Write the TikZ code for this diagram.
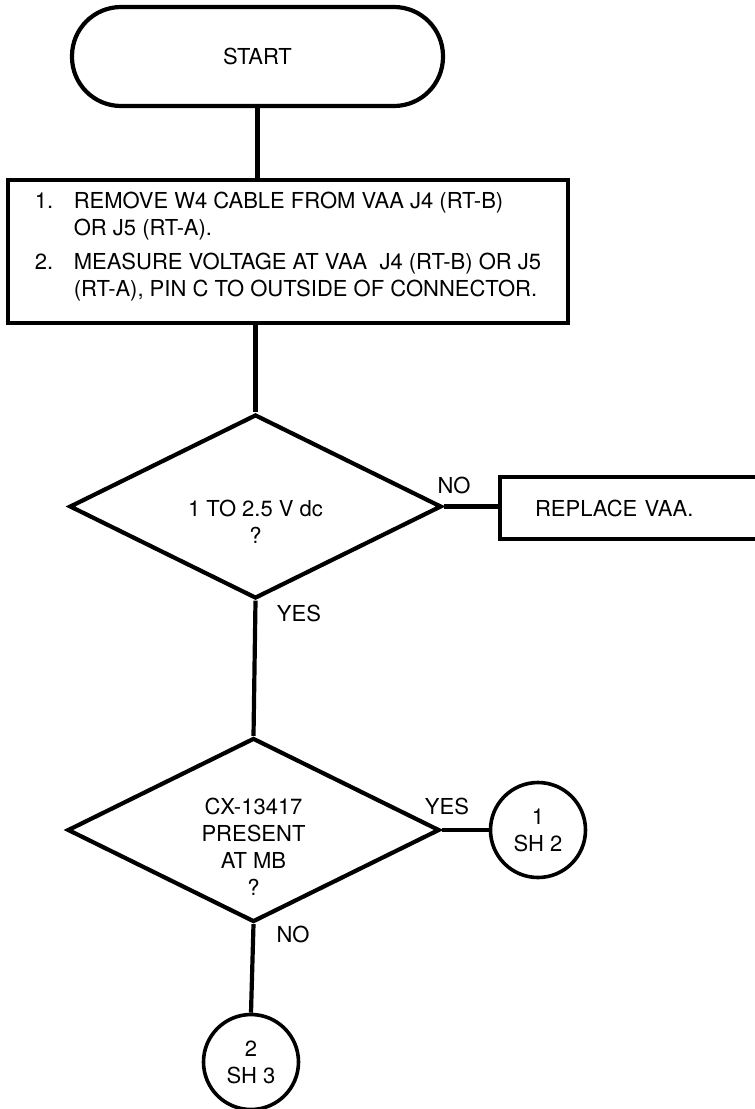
\documentclass[tikz,border=0pt]{standalone}
\usepackage{fontspec}
\setmainfont{TeX Gyre Heros}
\usetikzlibrary{shapes.geometric}
\begin{document}
\begin{tikzpicture}[x=1pt,y=-1pt,
  every node/.style={font=\fontsize{22}{27}\selectfont},
  ln/.style={line width=4.2pt},
  term/.style={draw, line width=4.2pt, rectangle, rounded corners=49pt,
    minimum width=371pt, minimum height=99pt, inner sep=0pt},
  stepbox/.style={draw, line width=4.2pt, rectangle, minimum width=560pt,
    minimum height=143pt, inner sep=0pt},
  decision/.style={draw, diamond, line width=4.2pt, aspect=2, inner sep=0pt,
    minimum width=372pt, minimum height=184pt},
  actbox/.style={draw, line width=4.2pt, rectangle, minimum height=62pt,
    text width=257pt, inner xsep=35pt, inner ysep=0pt, align=left},
  conn/.style={draw, circle, line width=3.6pt, minimum size=95pt, inner sep=0pt,
    align=center},
  lbl/.style={inner sep=0pt}]
\useasboundingbox (0,0) rectangle (755,1109);
\clip (0,0) rectangle (755,1109);

\node[term] (start) at (257.5,56.5) {START};

\node[stepbox] (step) at (288,251.5) {\raisebox{4pt}[\height][\depth]{%
  \begin{tabular}{@{}p{39pt}@{}l@{}}
  1. & REMOVE W4 CABLE FROM VAA J4 (RT-B)\\
     & OR J5 (RT-A).\\[7pt]
  2. & MEASURE VOLTAGE AT VAA~~J4 (RT-B) OR J5\\
     & (RT-A), PIN C TO OUTSIDE OF CONNECTOR.
  \end{tabular}}};

\node[decision] (d1) at (255.5,506.5) {\raisebox{-18pt}[\height][\depth]{%
  \begin{tabular}{@{}c@{}}1 TO 2.5 V dc\\?\end{tabular}}};

\node[actbox, anchor=west] (rep) at (498,508) {REPLACE VAA.};

\node[decision] (d2) at (253.5,830) {\raisebox{-20pt}[\height][\depth]{%
  \begin{tabular}{@{}c@{}}CX-13417\\PRESENT\\AT MB\\?\end{tabular}}};

\node[conn] (c1) at (538,830) {1\\SH 2};
\node[conn] (c2) at (251,1062) {2\\SH 3};

\node[lbl] (no1) at (454,485) {NO};
\node[lbl] (yes1) at (299,613) {YES};
\node[lbl] (yes2) at (447,806) {YES};
\node[lbl] (no2) at (293,934) {NO};

\draw[ln] (start.south) -- (start.south |- step.north);
\draw[ln] (d1.north |- step.south) -- (d1.north);
\draw[ln] (d1.east) -- (d1.east -| rep.west);
\draw[ln] (d1.south) -- (d2.north);
\draw[ln] (d2.east) -- (c1.west);
\draw[ln] (d2.south) -- (c2.north);
\end{tikzpicture}
\end{document}
